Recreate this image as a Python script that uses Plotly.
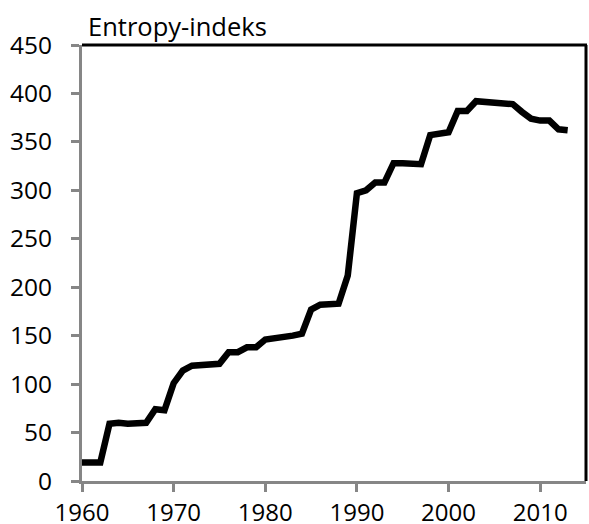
import plotly.graph_objects as go

years = list(range(1960, 2014))
entropy = [19, 19, 19, 59, 60, 59, 60, 60, 74, 73,
           101, 114, 119, 120, 120, 121, 133, 133, 138, 138,
           146, 147, 148, 150, 152, 177, 182, 182, 183, 212,
           297, 300, 308, 308, 328, 328, 327, 327, 357, 359,
           360, 382, 382, 392, 391, 390, 390, 389, 381, 374,
           372, 372, 363, 362]

x_ticks = [1960, 1970, 1980, 1990, 2000, 2010]
y_ticks = [0, 50, 100, 150, 200, 250, 300, 350, 400, 450]

grey = "rgb(134,134,134)"
font = dict(family="Open Sans", size=24.5, color="black")

fig = go.Figure()

fig.add_trace(
    go.Scatter(
        x=years,
        y=entropy,
        mode="lines",
        line=dict(color="black", width=6.5),
        showlegend=False
    )
)

# ramme oppe og til hoyre
fig.add_shape(type="line", xref="paper", yref="paper", x0=0, x1=1.002, y0=1, y1=1,
              line=dict(color="black", width=3))
fig.add_shape(type="line", xref="paper", yref="paper", x0=1, x1=1, y0=0, y1=1,
              line=dict(color="black", width=3))

fig.add_annotation(
    text="Entropy-indeks",
    xref="paper", yref="paper",
    x=0.008, y=1,
    xanchor="left", yanchor="bottom",
    showarrow=False,
    font=dict(family="Open Sans", size=25.5, color="black")
)

fig.update_xaxes(
    range=[1960, 2015],
    tickvals=x_ticks,
    showgrid=False,
    zeroline=False,
    showline=True,
    linecolor=grey,
    linewidth=3,
    ticks="outside",
    ticklen=8,
    tickwidth=3,
    tickcolor=grey,
    ticklabelstandoff=0,
    tickfont=dict(family="Open Sans", size=24, color="black"),
    automargin=False
)

fig.update_yaxes(
    range=[0, 450],
    tickvals=y_ticks,
    showgrid=False,
    zeroline=False,
    showline=True,
    linecolor=grey,
    linewidth=3,
    ticks="outside",
    ticklen=8,
    tickwidth=3,
    tickcolor=grey,
    ticklabelstandoff=14,
    tickfont=font,
    automargin=False
)

fig.update_layout(
    width=589,
    height=524,
    margin=dict(l=82, r=3, t=45, b=43),
    plot_bgcolor="white",
    paper_bgcolor="white",
    font=font
)

# fjern standardmargen paa body saa figuren fyller vinduet
fig.write_html(
    "out.html",
    config={"displayModeBar": False},
    post_script="document.body.style.margin='0';document.body.style.overflow='hidden';"
)
